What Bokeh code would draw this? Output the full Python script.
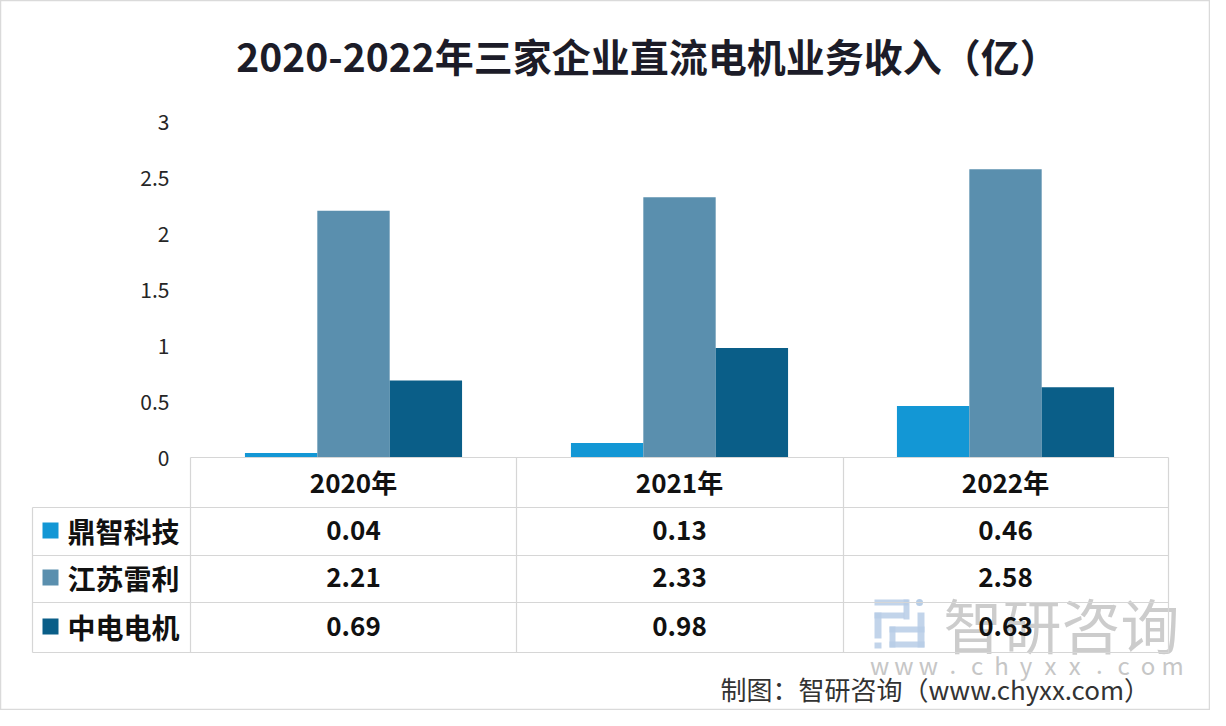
from bokeh.plotting import figure
from bokeh.models import Range1d
from bokeh.core.properties import value
from bokeh.embed import file_html
from bokeh.resources import INLINE

# ---------------- data ----------------
title_text = "2020-2022年三家企业直流电机业务收入（亿）"
years = ["2020年", "2021年", "2022年"]
companies = ["鼎智科技", "江苏雷利", "中电电机"]
dingzhi = [0.04, 0.13, 0.46]
jiangsu = [2.21, 2.33, 2.58]
zhongdian = [0.69, 0.98, 0.63]
series = [dingzhi, jiangsu, zhongdian]
colors = ["#1397d5", "#5a8fae", "#0a5e88"]
y_ticks = [0, 0.5, 1, 1.5, 2, 2.5, 3]
y_tick_labels = ["0", "0.5", "1", "1.5", "2", "2.5", "3"]
watermark = "智研咨询"
watermark_url = "www.chyxx.com"
source_note = "制图：智研咨询（www.chyxx.com）"

FONT = value("Noto Sans CJK SC")

# ---------------- layout helpers (page pixels -> data units) ----------------
X0, SX = 198.0, 326.0     # page x of category 0 start, pixels per category
Y0, SY = 465.0, 111.7     # page y of value 0, pixels per value unit


def px(x):
    return (x - X0) / SX


def py(y):
    return (Y0 - y) / SY


W, H = 1210, 710
p = figure(width=W, height=H, output_backend="svg", toolbar_location=None,
           x_range=Range1d(px(8), px(8 + W)), y_range=Range1d(py(8 + H), py(8)),
           x_axis_type=None, y_axis_type=None, min_border=0,
           background_fill_color="white", border_fill_color="white")
p.grid.visible = False
p.outline_line_color = "#dadada"
p.outline_line_width = 1.5

# ---------------- watermark (drawn first, beneath the table text) ----------------
logo_col = "#b7cde6"
logo = [  # left, right, top, bottom in page pixels
    (882, 916, 607, 613),
    (911, 917, 607, 627),
    (882, 912, 620, 626),
    (882, 889, 620, 646),
    (897, 932, 634, 640),
    (925, 932, 620, 655),
    (897, 903, 634, 655),
    (897, 932, 649, 655),
    (882, 889, 650, 656),
]
p.quad(left=[px(a) for a, b, c, d in logo], right=[px(b) for a, b, c, d in logo],
       top=[py(c) for a, b, c, d in logo], bottom=[py(d) for a, b, c, d in logo],
       fill_color=logo_col, line_color=None, fill_alpha=0.85)
p.scatter(x=[px(927)], y=[py(610)], size=7, fill_color=logo_col, line_color=None)

p.text(x=[px(951)], y=[py(631)], text=[watermark], text_align="left",
       text_baseline="middle", text_font=FONT, text_font_size="59px",
       text_color="#c6c6c6", text_alpha=0.9)
chars = list(watermark_url)
step = (1180 - 887) / (len(chars) - 1)
p.text(x=[px(887 + k * step) for k in range(len(chars))], y=[py(672)] * len(chars),
       text=chars, text_align="center", text_baseline="middle", text_font=FONT,
       text_font_size="24px", text_color="#c6c6c6")

# ---------------- bars ----------------
n = len(years)
bw = 0.222
for j, vals in enumerate(series):
    xs = [i + 0.5 + (j - 1) * bw for i in range(n)]
    p.vbar(x=xs, top=vals, bottom=0, width=bw, fill_color=colors[j], line_color=None)

# ---------------- y tick labels ----------------
p.text(x=[px(177)] * len(y_ticks), y=y_ticks, text=y_tick_labels,
       text_align="right", text_baseline="middle", text_font=FONT,
       text_font_size="21px", text_color="#262626")

# ---------------- title ----------------
p.text(x=[px(655)], y=[py(62)], text=[title_text], text_align="center",
       text_baseline="middle", text_font=FONT, text_font_size="39px",
       text_font_style="bold", text_color="#1c1c28")

# ---------------- data table ----------------
row_edges = [465, 515, 563, 610, 660]
col_edges = [198, 524, 851, 1176]
grid_col = "#d6d6d6"
hx0 = [px(198)] + [px(40)] * 4
hx1 = [px(1176)] * 5
hy = [py(r) for r in row_edges]
p.segment(x0=hx0, y0=hy, x1=hx1, y1=hy, line_color=grid_col, line_width=1.2)
vx = [px(40)] + [px(c) for c in col_edges]
vy0 = [py(515)] + [py(465)] * 4
vy1 = [py(660)] * 5
p.segment(x0=vx, y0=vy0, x1=vx, y1=vy1, line_color=grid_col, line_width=1.2)

p.text(x=[i + 0.5 for i in range(n)], y=[py(489)] * n, text=years,
       text_align="center", text_baseline="middle", text_font=FONT,
       text_font_size="26px", text_font_style="bold", text_color="#111111")

row_centers = [538, 585, 634]
for j, vals in enumerate(series):
    yc = py(row_centers[j])
    p.text(x=[i + 0.5 for i in range(n)], y=[yc] * n,
           text=["%.2f" % v for v in vals], text_align="center",
           text_baseline="middle", text_font=FONT, text_font_size="26px",
           text_font_style="bold", text_color="#111111")
    p.scatter(x=[px(58)], y=[yc], marker="square", size=16,
              fill_color=colors[j], line_color=None)
    p.text(x=[px(75)], y=[yc], text=[companies[j]], text_align="left",
           text_baseline="middle", text_font=FONT, text_font_size="28px",
           text_font_style="bold", text_color="#111111")

# ---------------- source note ----------------
p.text(x=[px(728)], y=[py(696)], text=[source_note], text_align="left",
       text_baseline="middle", text_font=FONT, text_font_size="26px",
       text_color="#333333")

open("out.html", "w").write(file_html(p, INLINE))
